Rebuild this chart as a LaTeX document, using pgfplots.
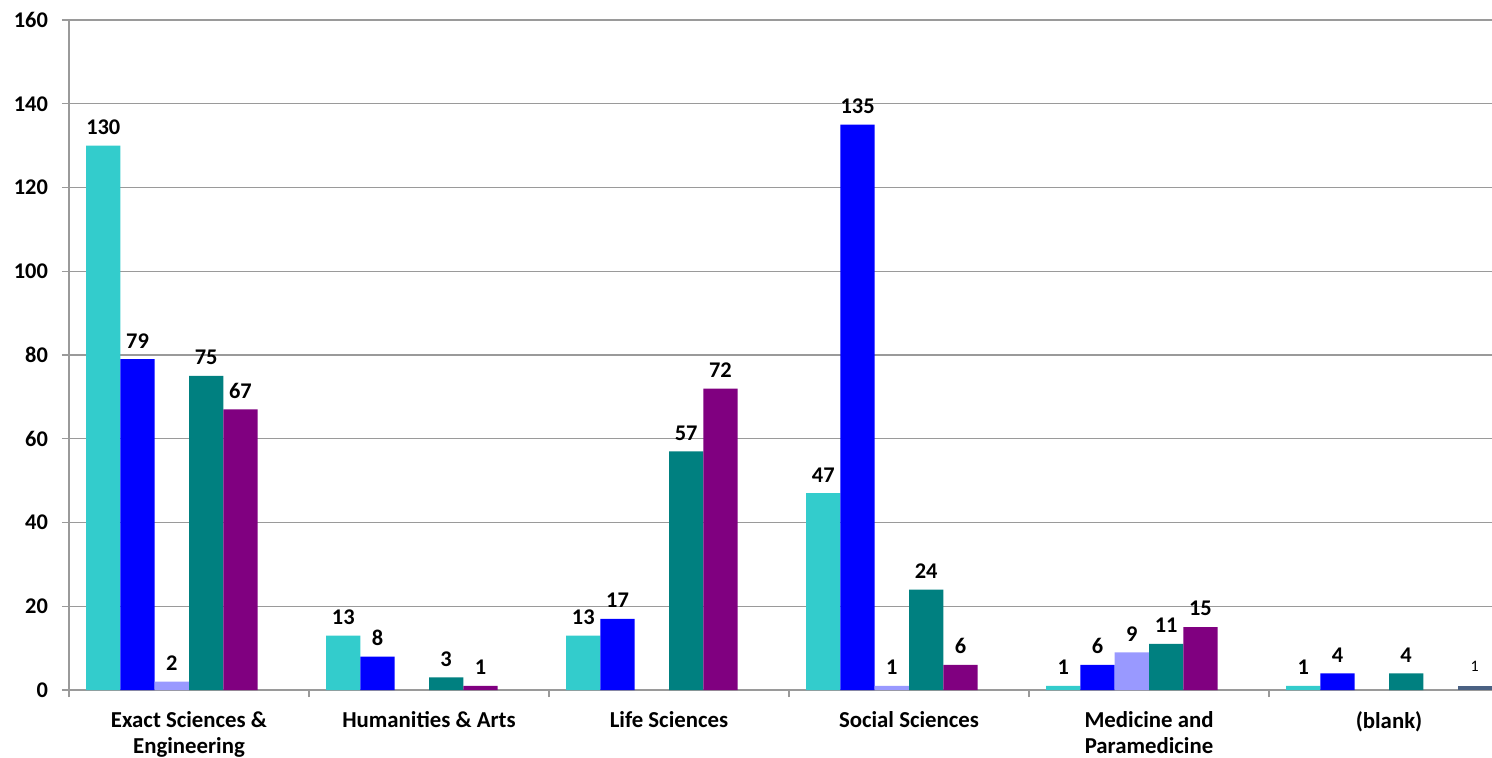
\documentclass[border=0pt]{standalone}
\usepackage{fontspec}
\setmainfont{Carlito}
\usepackage{pgfplots}
\pgfplotsset{compat=1.18}
\definecolor{c1}{HTML}{33CCCC}
\definecolor{c2}{HTML}{0000FF}
\definecolor{c3}{HTML}{9999FF}
\definecolor{c4}{HTML}{008080}
\definecolor{c5}{HTML}{800080}
\definecolor{c6}{HTML}{4A6183}
\definecolor{gridgray}{HTML}{9A9A9A}
\begin{document}
\begin{tikzpicture}
\begin{axis}[
  scale only axis, width=711.5pt, height=335pt,
  at={(0,0)}, anchor=south west,
  xmin=0.5, xmax=6.4292, ymin=0, ymax=160,
  axis lines=left,
  axis line style={-, draw=gridgray, line width=0.7pt},
  ytick={0,20,...,160},
  ymajorgrids, grid style={draw=gridgray, line width=0.6pt},
  xtick={1,...,6},
  xticklabels={{Exact Sciences \&\\Engineering},{Humanities \& Arts},{Life Sciences},{Social Sciences},{Medicine and\\Paramedicine},{(blank)}},
  minor xtick={0.5,1.5,...,5.5},
  tick align=outside, major tick length=3.5pt, minor tick length=3.5pt,
  tick style={draw=gridgray, line width=0.6pt},
  major x tick style={draw=none},
  /pgf/number format/assume math mode=true,
  yticklabel style={font=\bfseries\fontsize{11.2}{13}\selectfont, xshift=-3.5pt},
  xticklabel style={font=\bfseries\fontsize{11.4}{13}\selectfont, align=center, yshift=-3.5pt},
  ybar, bar width=0.142857,
  nodes near coords,
  every node near coord/.append style={font=\bfseries\fontsize{11.2}{13}\selectfont, text=black, yshift=2pt},
]
\addplot[fill=c1, draw=none, bar shift=-0.357143] coordinates {(1,130) (2,13) (3,13) (4,47) (5,1) (6,1)};
\addplot[fill=c2, draw=none, bar shift=-0.214286] coordinates {(1,79) (2,8) (3,17) (4,135) (5,6) (6,4)};
\addplot[fill=c3, draw=none, bar shift=-0.071429] coordinates {(1,2) (4,1) (5,9)};
\addplot[fill=c4, draw=none, bar shift=0.071429] coordinates {(1,75) (2,3) (3,57) (4,24) (5,11) (6,4)};
\addplot[fill=c5, draw=none, bar shift=0.214286] coordinates {(1,67) (2,1) (3,72) (4,6) (5,15)};
\addplot[fill=c6, draw=none, bar shift=0.357143,
  every node near coord/.append style={font=\fontsize{8}{9}\selectfont, yshift=1.5pt}] coordinates {(6,1)};
\end{axis}
\pgfresetboundingbox
\path[use as bounding box] (-34.5pt,-33.5pt) rectangle (711.5pt,345pt);
\end{tikzpicture}
\end{document}
